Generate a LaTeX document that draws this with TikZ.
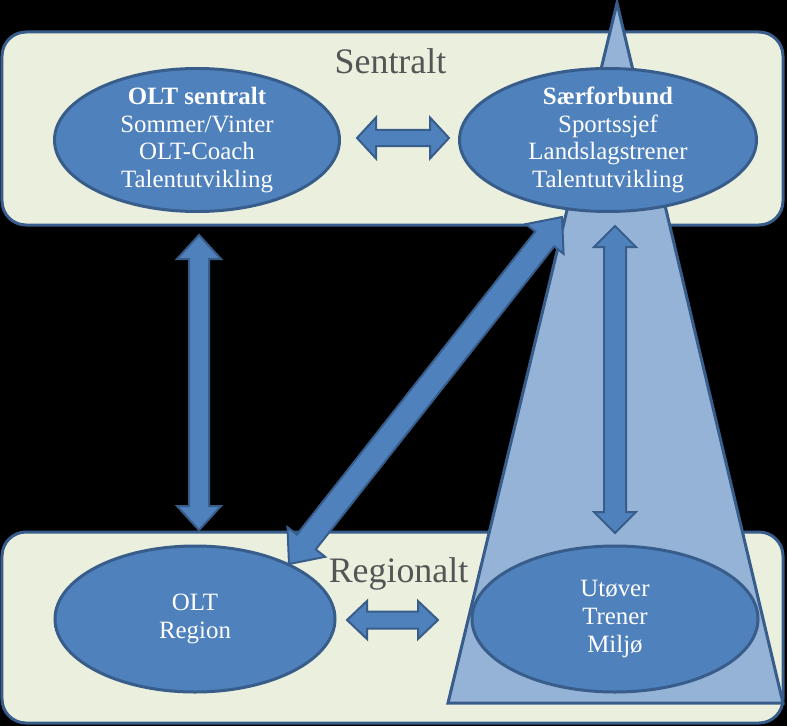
\documentclass[tikz,border=0pt]{standalone}
\usepackage{fontspec}
\setmainfont{Liberation Serif}
\usepackage{tikz}
\usetikzlibrary{
  positioning,
  shapes.geometric,
  calc
}
\definecolor{nodeblue}{RGB}{79,129,189}
\definecolor{edgeblue}{RGB}{56,93,138}
\definecolor{coneblue}{RGB}{149,179,215}
\definecolor{panelfill}{RGB}{235,240,222}
\definecolor{titlegray}{RGB}{85,85,85}
\tikzset{
  levelbox/.style={draw=edgeblue, line width=3bp, fill=panelfill,
    rounded corners=24bp, minimum width=781bp, minimum height=193bp,
    inner sep=0pt},
  leveltitle/.style={text=titlegray, inner sep=0pt,
    font=\fontsize{36}{40}\selectfont},
  oval/.style={ellipse, draw=edgeblue, line width=3bp, fill=nodeblue,
    text=white, align=center, inner xsep=0pt, inner ysep=-16bp,
    font=\fontsize{25}{27.8}\selectfont},
  cone/.style={draw=edgeblue, line width=3bp, fill=coneblue,
    line join=miter},
  barrow/.style args={#1/#2/#3}{draw=edgeblue, line width=2bp,
    fill=nodeblue, line join=miter,
    to path={
      -- ($(\tikztostart)!#1!(\tikztotarget)!#2!90:(\tikztotarget)$)
      -- ($(\tikztostart)!#1!(\tikztotarget)!#3!90:(\tikztotarget)$)
      -- ($(\tikztotarget)!#1!(\tikztostart)!#3!-90:(\tikztostart)$)
      -- ($(\tikztotarget)!#1!(\tikztostart)!#2!-90:(\tikztostart)$)
      -- (\tikztotarget)
      -- ($(\tikztotarget)!#1!(\tikztostart)!#2!90:(\tikztostart)$)
      -- ($(\tikztotarget)!#1!(\tikztostart)!#3!90:(\tikztostart)$)
      -- ($(\tikztostart)!#1!(\tikztotarget)!#3!-90:(\tikztotarget)$)
      -- ($(\tikztostart)!#1!(\tikztotarget)!#2!-90:(\tikztotarget)$)
      -- cycle}},
}

\begin{document}
\begin{tikzpicture}[x=1bp, y=-1bp]
  \useasboundingbox (0,0) rectangle (787,726);
  \fill[black] (0,0) rectangle (787,726);

  % Two levels
  \node[levelbox] (sentralbox) at (392.5,128.5) {};
  \node[leveltitle, below=18bp of sentralbox.north, xshift=-2bp]
    (sentraltitle) {Sentralt};
  \node[levelbox, minimum height=191bp] (regionbox) at (392.5,627.5) {};
  \node[leveltitle, below=27bp of regionbox.north, xshift=6bp]
    (regiontitle) {Regionalt};

  % Cone through the right column
  \draw[cone] (617,3) -- (448,703) -- (783,703) -- cycle;

  % Four actors
  \node[oval, minimum width=285bp, minimum height=143bp] (sentral)
    at (197,140)
    {\textbf{OLT sentralt}\\Sommer/Vinter\\OLT-Coach\\Talentutvikling};
  \node[oval, minimum width=297bp, minimum height=143bp] (saer)
    at (608,140)
    {\textbf{Særforbund}\\Sportssjef\\Landslagstrener\\Talentutvikling};
  \node[oval, minimum width=280bp, minimum height=146bp] (region)
    at (195,619) {OLT\\Region};
  \node[oval, minimum width=286bp, minimum height=146bp] (utover)
    at (615,619) {Utøver\\Trener\\Miljø};

  % Arrow ends
  \coordinate (topL) at (357,138);
  \coordinate (topR) at (449,138);
  \coordinate (botL) at (347,620);
  \coordinate (botR) at (438,620);
  \coordinate (leftT) at (199,235);
  \coordinate (leftB) at (199,530);
  \coordinate (rightT) at (615,226);
  \coordinate (rightB) at (615,533);
  \coordinate (diagT) at (562,217);
  \coordinate (diagB) at (289,564);

  % Arrows
  \path[barrow=19bp/20.5bp/8bp] (topL) to (topR);
  \path[barrow=20bp/19bp/8.5bp] (botL) to (botR);
  \path[barrow=24bp/22bp/10bp] (leftT) to (leftB);
  \path[barrow=21bp/21bp/11bp] (rightT) to (rightB);
  \path[barrow=28bp/24bp/12bp] (diagT) to (diagB);
\end{tikzpicture}
\end{document}
